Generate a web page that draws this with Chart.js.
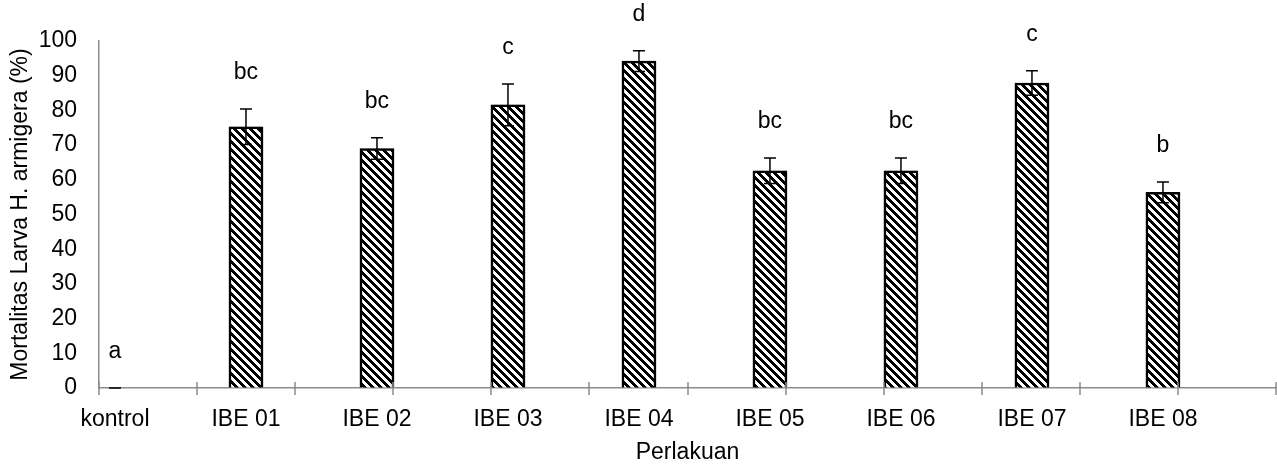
<!DOCTYPE html>
<html>
<head>
<meta charset="utf-8">
<script src="https://cdn.jsdelivr.net/npm/chart.js@4.4.1/dist/chart.umd.min.js"></script>
<style>
  html, body { margin: 0; padding: 0; background: #fff; }
  #wrap { width: 1277px; height: 466px; }
</style>
</head>
<body>
<div id="wrap"><canvas id="myChart"></canvas></div>
<script>
// data
const kategori = ['kontrol', 'IBE 01', 'IBE 02', 'IBE 03', 'IBE 04', 'IBE 05', 'IBE 06', 'IBE 07', 'IBE 08'];
const mortalitas = [0, 75.3, 69.0, 81.6, 94.2, 62.6, 62.6, 87.9, 56.4];
const galat = [0, 5.1, 3.1, 6.0, 3.0, 3.7, 3.7, 3.5, 3.0];
const notasi = ['a', 'bc', 'bc', 'c', 'd', 'bc', 'bc', 'c', 'b'];

const FONT = "'Liberation Sans', Arial, sans-serif";
const abu = '#8c8c8c';

function buatArsir(ctx) {
    const n = 8;
    const c = document.createElement('canvas');
    c.width = n; c.height = n;
    const g = c.getContext('2d');
    const img = g.createImageData(n, n);
    for (let y = 0; y < n; y++) {
        for (let x = 0; x < n; x++) {
            const k = ((x - y) % n + n) % n;
            const v = k < n / 2 ? 0 : 255;
            const p = (y * n + x) * 4;
            img.data[p] = v; img.data[p + 1] = v; img.data[p + 2] = v; img.data[p + 3] = 255;
        }
    }
    g.putImageData(img, 0, 0);
    return ctx.createPattern(c, 'repeat');
}

// error bars + letters above bars
const galatPlugin = {
    id: 'galat',
    beforeDatasetsDraw(chart) {
        const ctx = chart.ctx;
        ctx.save();
        ctx.shadowColor = 'rgba(0,0,0,0.35)';
        ctx.shadowBlur = 4;
    },
    afterDatasetsDraw(chart) {
        const ctx = chart.ctx;
        ctx.restore();
        const meta = chart.getDatasetMeta(0);
        const ys = chart.scales.y;
        ctx.save();
        ctx.strokeStyle = '#000';
        ctx.lineWidth = 1.5;
        ctx.fillStyle = '#000';
        ctx.font = '23px ' + FONT;
        ctx.textAlign = 'center';
        ctx.textBaseline = 'alphabetic';
        for (let i = 0; i < mortalitas.length; i++) {
            const x = meta.data[i].x;
            const yAtas = ys.getPixelForValue(mortalitas[i] + galat[i]);
            const yBawah = ys.getPixelForValue(mortalitas[i] - galat[i]);
            ctx.beginPath();
            ctx.moveTo(x, yAtas); ctx.lineTo(x, yBawah);
            ctx.moveTo(x - 6, yAtas); ctx.lineTo(x + 6, yAtas);
            ctx.moveTo(x - 6, yBawah); ctx.lineTo(x + 6, yBawah);
            ctx.stroke();
            ctx.fillText(notasi[i], x, yAtas - 30);
        }
        ctx.restore();
    },
    afterDraw(chart) {
        // cross tick marks along the category axis
        const xs = chart.scales.x;
        const y0 = chart.chartArea.bottom;
        const ctx = chart.ctx;
        ctx.save();
        ctx.strokeStyle = abu;
        ctx.lineWidth = 1.5;
        ctx.beginPath();
        for (let k = 0; k <= 12; k++) {
            const px = Math.round(xs.getPixelForValue(xs.min + k * (xs.max - xs.min) / 12));
            ctx.moveTo(px, y0 - 6); ctx.lineTo(px, y0 + 7);
        }
        ctx.stroke();
        ctx.restore();
    }
};

const ctx = document.getElementById('myChart').getContext('2d');
const myChart = new Chart(ctx, {
    type: 'bar',
    data: {
        datasets: [{
            label: 'Mortalitas',
            data: mortalitas.map((v, i) => ({ x: i, y: v })),
            backgroundColor: buatArsir(ctx),
            borderColor: '#000',
            borderWidth: 2.5,
            barThickness: 34
        }]
    },
    plugins: [galatPlugin],
    options: {
        responsive: true,
        maintainAspectRatio: false,
        animation: false,
        devicePixelRatio: 1,
        layout: { padding: { top: 41, right: 1, bottom: 0, left: 0 } },
        plugins: {
            legend: { display: false },
            tooltip: { enabled: false }
        },
        scales: {
            x: {
                type: 'linear',
                offset: false,
                min: -0.122,
                max: 8.863,
                afterBuildTicks: (scale) => {
                    scale.ticks = kategori.map((k, i) => ({ value: i }));
                },
                afterFit: (scale) => { scale.height = 78; },
                ticks: {
                    autoSkip: false,
                    maxRotation: 0,
                    padding: 18,
                    color: '#000',
                    font: { family: FONT, size: 23 },
                    callback: (v) => kategori[v]
                },
                grid: { display: true, offset: false, drawOnChartArea: false, drawTicks: false },
                border: { display: true, color: abu, width: 1.5 },
                title: {
                    display: true,
                    text: 'Perlakuan',
                    color: '#000',
                    font: { family: FONT, size: 23 },
                    padding: { top: 0, bottom: 0 }
                }
            },
            y: {
                min: 0,
                max: 100,
                afterFit: (scale) => { scale.width = 99; },
                ticks: {
                    stepSize: 10,
                    padding: 22,
                    color: '#000',
                    font: { family: FONT, size: 23 }
                },
                grid: { display: true, drawOnChartArea: false, drawTicks: false },
                border: { display: true, color: abu, width: 1.5 },
                title: {
                    display: true,
                    text: 'Mortalitas Larva H. armigera (%)',
                    color: '#000',
                    font: { family: FONT, size: 23 },
                    padding: { top: 7, bottom: 0 }
                }
            }
        }
    }
});
</script>
</body>
</html>
